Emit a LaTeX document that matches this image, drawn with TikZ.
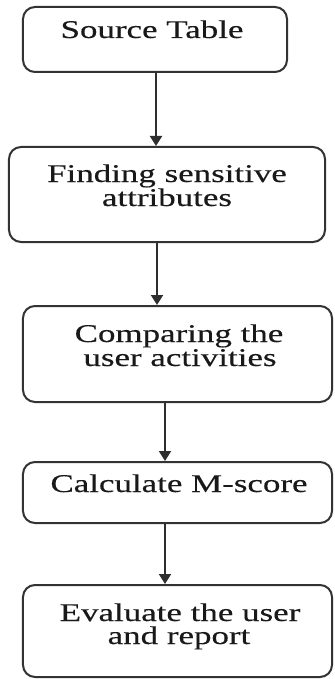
\documentclass[tikz,border=0pt]{standalone}
\usepackage{fontspec}
\setmainfont{Liberation Serif}[FakeStretch=1.37,FakeBold=0.3]
\usetikzlibrary{arrows.meta}

\tikzset{
  stepbox/.style={draw=black!80, line width=2bp, rounded corners=12bp,
    fill=white, inner sep=0pt},
  lbl/.style={anchor=base, inner sep=0pt, text=black!90,
    font=\fontsize{25.5bp}{25.5bp}\selectfont},
  flow/.style={draw=black!82, line width=2bp,
    -{Triangle[width=12bp,length=10bp]}}
}

\begin{document}
\begin{tikzpicture}[x=1bp,y=-1bp]
  \useasboundingbox (0,0) rectangle (334,679);

  % boxes
  \node[stepbox, minimum width=264bp, minimum height=65bp] (src) at (155,39.5) {};
  \node[stepbox, minimum width=316bp, minimum height=95bp] (sens) at (167,194.5) {};
  \node[stepbox, minimum width=309bp, minimum height=96bp] (cmp) at (177.5,354) {};
  \node[stepbox, minimum width=309bp, minimum height=61bp] (msc) at (177.5,492.5) {};
  \node[stepbox, minimum width=309bp, minimum height=92bp] (eval) at (177.5,631) {};

  % labels
  \node[lbl] (src-t) at (152,38) {Source Table};
  \node[lbl] (sens-t1) at (167,182) {Finding sensitive};
  \node[lbl] (sens-t2) at (167,206) {attributes};
  \node[lbl] (cmp-t1) at (179,342) {Comparing the};
  \node[lbl] (cmp-t2) at (180,366) {user activities};
  \node[lbl] (msc-t) at (179,492) {Calculate M-score};
  \node[lbl] (eval-t1) at (180,621) {Evaluate the user};
  \node[lbl] (eval-t2) at (179,644) {and report};

  % connectors
  \coordinate (c1) at (156,0);
  \coordinate (c2) at (157,0);
  \coordinate (c3) at (165,0);
  \draw[flow] (c1 |- src.south) -- (c1 |- sens.north);
  \draw[flow] (c2 |- sens.south) -- (c2 |- cmp.north);
  \draw[flow] (c3 |- cmp.south) -- (c3 |- msc.north);
  \draw[flow] (c3 |- msc.south) -- (c3 |- eval.north);
\end{tikzpicture}
\end{document}
